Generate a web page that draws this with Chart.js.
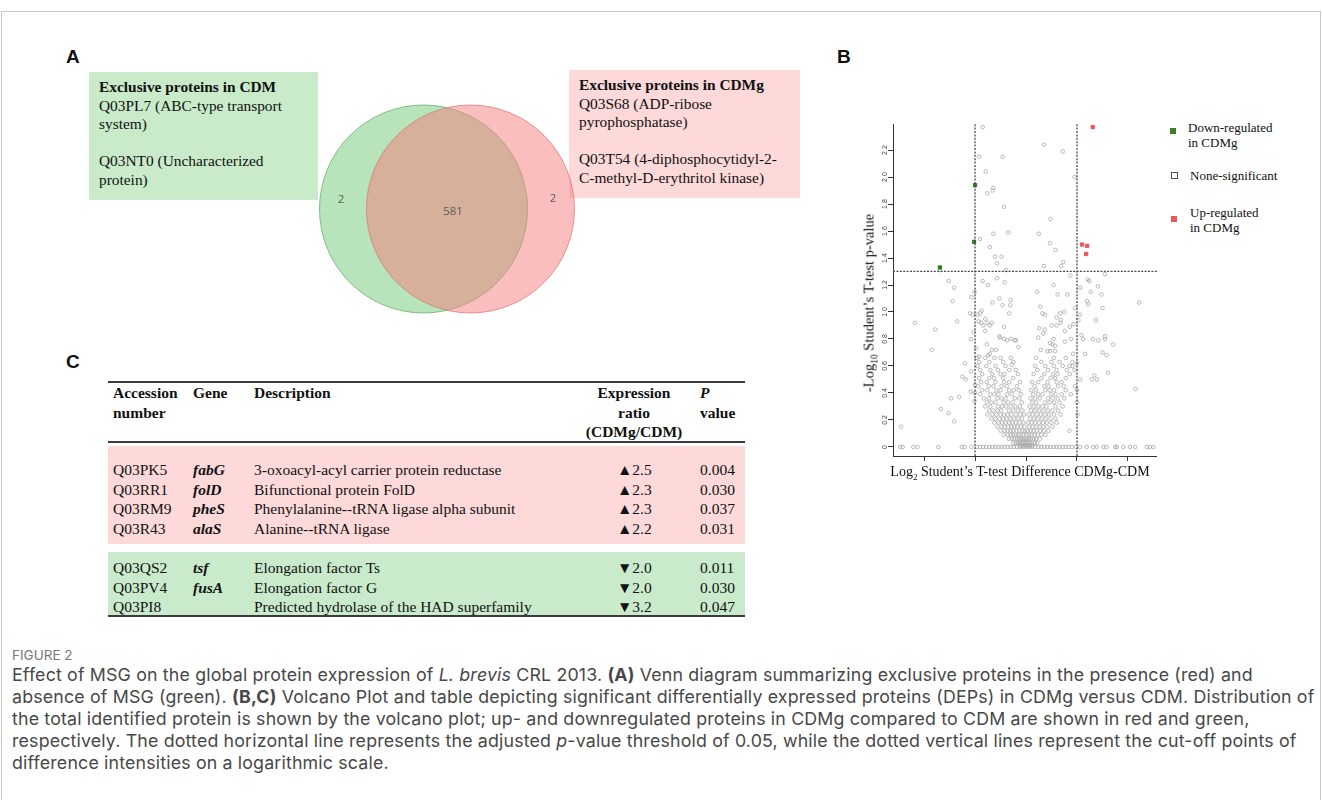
<!DOCTYPE html>
<html>
<head>
<meta charset="utf-8">
<script src="https://cdn.jsdelivr.net/npm/chart.js@4.4.1/dist/chart.umd.min.js"></script>
<style>
  html, body { margin: 0; padding: 0; background: #fff; }
  #page { position: relative; width: 1322px; height: 800px; overflow: hidden; }
  .abs { position: absolute; }
  .frame { left: 1px; top: 11px; width: 1318px; height: 800px; border: 1px solid #c8c8c8; border-bottom: none; }
  .panel { font-family: "Liberation Sans", Arial, sans-serif; font-weight: bold; font-size: 19px; color: #111; }
  .serif { font-family: "Liberation Serif", "Times New Roman", serif; color: #111; }
  .box { font-size: 15.4px; line-height: 18.6px; padding: 6px 10px; box-sizing: border-box; }
  .legend { font-size: 13px; line-height: 15px; }
  .sq { position: absolute; width: 6px; height: 6px; }
  .tbl { font-size: 15.5px; line-height: 19.6px; }
  .rule { position: absolute; left: 108px; width: 637px; height: 2px; background: #3a3a3a; }
  .cell { position: absolute; white-space: nowrap; }
  .caption { font-family: Inter, "Open Sans", sans-serif; color: #484848; font-size: 17.8px; letter-spacing: 0.16px; line-height: 22px; white-space: nowrap; }
</style>
</head>
<body>
<div id="page">
  <div class="abs frame"></div>

  <!-- panel A -->
  <div class="abs panel" style="left:66px;top:46px;">A</div>
  <div class="abs serif box" style="left:89px;top:72px;width:229px;height:128px;background:#c9ebc9;">
    <b>Exclusive proteins in CDM</b><br>Q03PL7 (ABC-type transport<br>system)<br><br>Q03NT0 (Uncharacterized<br>protein)
  </div>
  <div class="abs serif box" style="left:569px;top:70px;width:231px;height:128px;background:#fdd9d9;">
    <b>Exclusive proteins in CDMg</b><br>Q03S68 (ADP-ribose<br>pyrophosphatase)<br><br>Q03T54 (4-diphosphocytidyl-2-<br>C-methyl-D-erythritol kinase)
  </div>
  <canvas id="venn" class="abs" width="300" height="240" style="left:297px;top:89px;width:300px;height:240px;"></canvas>

  <!-- panel B -->
  <div class="abs panel" style="left:837px;top:46px;">B</div>
  <canvas id="volcano" class="abs" width="297" height="360" style="left:860px;top:110px;width:297px;height:360px;"></canvas>
  <div class="abs serif" style="left:870px;top:303px;width:0;height:0;">
    <div style="position:absolute;transform:translate(-50%,-50%) rotate(-90deg);white-space:nowrap;font-size:14.5px;">-Log<sub style="font-size:9.5px;">10</sub> Student’s T-test p-value</div>
  </div>
  <div class="abs serif" style="left:1020px;top:473px;width:0;height:0;">
    <div style="position:absolute;transform:translate(-50%,-50%);white-space:nowrap;font-size:14px;">Log<sub style="font-size:9px;">2</sub> Student’s T-test Difference CDMg-CDM</div>
  </div>
  <div class="sq" style="left:1170px;top:128px;background:#3f7f2c;"></div>
  <div class="abs serif legend" style="left:1188px;top:120px;">Down-regulated<br>in CDMg</div>
  <div class="sq" style="left:1171px;top:172px;width:5px;height:5px;border:1px solid #555;background:#fff;"></div>
  <div class="abs serif legend" style="left:1190px;top:168px;">None-significant</div>
  <div class="sq" style="left:1171px;top:216px;background:#f05454;"></div>
  <div class="abs serif legend" style="left:1190px;top:205px;">Up-regulated<br>in CDMg</div>

  <!-- panel C -->
  <div class="abs panel" style="left:66px;top:351px;">C</div>
  <div class="rule" style="top:381px;"></div>
  <div class="abs serif tbl" style="left:0;top:383px;font-weight:bold;">
    <div class="cell" style="left:113px;">Accession<br>number</div>
    <div class="cell" style="left:193px;">Gene</div>
    <div class="cell" style="left:254px;">Description</div>
    <div class="cell" style="left:574px;width:120px;text-align:center;">Expression<br>ratio<br>(CDMg/CDM)</div>
    <div class="cell" style="left:700px;"><i>P</i><br>value</div>
  </div>
  <div class="rule" style="top:441px;"></div>
  <div class="abs" style="left:108px;top:446px;width:637px;height:98px;background:#fdd9d9;"></div>
  <div class="abs" style="left:108px;top:552px;width:637px;height:63px;background:#c9ebcb;"></div>
  <div class="abs serif tbl" style="left:0;top:460px;">
    <div class="cell" style="left:113px;">Q03PK5<br>Q03RR1<br>Q03RM9<br>Q03R43</div>
    <div class="cell" style="left:193px;font-weight:bold;font-style:italic;">fabG<br>folD<br>pheS<br>alaS</div>
    <div class="cell" style="left:254px;">3-oxoacyl-acyl carrier protein reductase<br>Bifunctional protein FolD<br>Phenylalanine--tRNA ligase alpha subunit<br>Alanine--tRNA ligase</div>
    <div class="cell" style="left:617px;">▲2.5<br>▲2.3<br>▲2.3<br>▲2.2</div>
    <div class="cell" style="left:700px;">0.004<br>0.030<br>0.037<br>0.031</div>
  </div>
  <div class="abs serif tbl" style="left:0;top:558px;">
    <div class="cell" style="left:113px;">Q03QS2<br>Q03PV4<br>Q03PI8</div>
    <div class="cell" style="left:193px;font-weight:bold;font-style:italic;">tsf<br>fusA<br>&nbsp;</div>
    <div class="cell" style="left:254px;">Elongation factor Ts<br>Elongation factor G<br>Predicted hydrolase of the HAD superfamily</div>
    <div class="cell" style="left:617px;">▼2.0<br>▼2.0<br>▼3.2</div>
    <div class="cell" style="left:700px;">0.011<br>0.030<br>0.047</div>
  </div>
  <div class="rule" style="top:615px;"></div>

  <!-- caption -->
  <div class="abs caption" style="left:12px;top:647px;font-size:13.5px;line-height:17px;color:#777;letter-spacing:0;">FIGURE 2</div>
  <div class="abs caption" style="left:12px;top:664px;">
    Effect of MSG on the global protein expression of <i>L. brevis</i> CRL 2013. <b>(A)</b> Venn diagram summarizing exclusive proteins in the presence (red) and<br>
    absence of MSG (green). <b>(B,C)</b> Volcano Plot and table depicting significant differentially expressed proteins (DEPs) in CDMg versus CDM. Distribution of<br>
    the total identified protein is shown by the volcano plot; up- and downregulated proteins in CDMg compared to CDM are shown in red and green,<br>
    respectively. The dotted horizontal line represents the adjusted <i>p</i>-value threshold of 0.05, while the dotted vertical lines represent the cut-off points of<br>
    difference intensities on a logarithmic scale.
  </div>
</div>

<script>
// venn counts: CDM only, shared, CDMg only
const vennLabels = ['CDM', 'CDMg'];
const vennCounts = [2, 581, 2];

// volcano: significant proteins [log2 diff, -log10 p]
const downPoints = [[-1.0, 1.94], [-1.02, 1.52], [-1.69, 1.33]];
const upPoints = [[1.31, 2.37], [1.10, 1.50], [1.20, 1.49], [1.18, 1.43]];

// non-significant, sparse part
const nsSparse = [
    [-0.85, 2.37], [-0.92, 2.15], [-0.46, 2.15], [0.35, 2.24], [0.72, 2.19], [0.95, 2.0], [-0.79, 2.04],
    [-0.64, 1.92], [-0.66, 1.9], [-0.76, 1.88], [-0.43, 1.78], [0.48, 1.69], [-0.64, 1.58], [-0.35, 1.59],
    [0.25, 1.58], [-0.9, 1.54], [0.47, 1.51], [-0.71, 1.48], [0.58, 1.46], [-0.61, 1.41], [-0.48, 1.41],
    [-0.57, 1.36], [0.35, 1.34], [0.69, 1.34], [0.73, 1.37], [-0.39, 1.31], [-1.69, 1.31],
    [-1.52, 1.23], [-1.41, 1.18], [-1.44, 1.08], [-0.85, 1.23], [-0.75, 1.2], [-0.57, 1.25], [-0.42, 1.22],
    [-1.01, 1.15], [-1.07, 1.11], [-0.66, 1.07], [-0.52, 1.1], [-0.46, 1.05], [-0.3, 1.09], [-0.31, 1.05],
    [0.22, 1.15], [0.54, 1.2], [0.62, 1.13], [0.81, 1.13], [0.87, 1.27], [0.28, 1.04], [0.96, 1.03],
    [1.06, 1.18], [1.21, 1.24], [1.24, 1.23], [1.55, 1.28], [1.27, 1.15], [1.41, 1.19], [1.48, 1.13],
    [1.2, 1.08], [1.22, 1.06], [1.5, 1.03], [2.22, 1.07],
    [-2.18, 0.92], [-1.35, 0.93], [-1.78, 0.87], [-1.85, 0.72], [-1.1, 0.99], [-1.05, 0.98], [-1.03, 0.85],
    [-1.08, 0.8], [-1.2, 0.62], [-1.25, 0.52], [-1.18, 0.5], [-1.08, 0.41], [-1.31, 0.37], [-1.47, 0.36],
    [-1.67, 0.28], [-1.52, 0.25], [-1.41, 0.19], [-2.45, 0.15], [-1.08, 0.56], [-0.98, 0.73], [-1.0, 0.46],
    [-1.0, 0.4], [-1.01, 0.34],
    [1.06, 0.98], [1.03, 0.94], [1.37, 0.94], [1.09, 0.83], [1.12, 0.8], [1.31, 0.8], [1.42, 0.79],
    [1.55, 0.82], [1.55, 0.8], [1.71, 0.76], [1.16, 0.69], [1.5, 0.7], [1.58, 0.68], [1.06, 0.5], [1.29, 0.5],
    [1.39, 0.5], [1.34, 0.53], [1.61, 0.55], [2.15, 0.43], [1.0, 0.62], [1.0, 0.42], [1.0, 0.33], [1.01, 0.24],
    [0.85, 0.12],
    [-0.95, 0.98], [-0.9, 0.99], [-0.87, 1.01], [-0.93, 0.93], [-0.88, 0.92], [-0.8, 0.95], [-0.84, 0.9],
    [-0.76, 0.92], [-0.71, 0.9], [-0.67, 0.92], [-0.8, 0.86], [-0.43, 0.89], [-0.33, 0.99], [0.32, 0.99],
    [0.37, 0.98], [0.67, 0.99], [0.75, 1.0], [0.6, 0.96], [0.68, 0.94], [0.68, 0.92], [0.93, 0.91],
    [0.86, 0.89], [0.5, 0.9], [0.6, 0.9], [0.37, 0.87], [0.26, 0.88], [0.76, 0.86], [0.34, 0.84],
    [0.24, 0.81], [0.54, 0.8], [0.88, 0.8], [0.47, 0.77], [0.52, 0.76], [0.57, 0.75], [0.76, 0.78],
    [-0.2, 0.79], [-0.15, 0.74], [0.29, 0.72], [0.42, 0.71], [0.47, 0.71], [0.57, 0.71], [0.92, 0.69],
    [0.91, 0.63], [0.91, 0.6], [-0.52, 0.82], [-0.51, 0.81], [-0.43, 0.8], [-0.37, 0.79], [-0.3, 0.8],
    [-0.22, 0.79], [-0.67, 0.72], [-0.59, 0.72], [-0.74, 0.68], [-0.71, 0.69], [-0.77, 0.76], [-0.92, 0.67],
    [-0.28, 0.61]
];

// non-significant, the dense V
const nsCore = [
    [-0.96, 0.66], [-0.8, 0.66], [-0.62, 0.66], [-0.5, 0.66], [-0.3, 0.66], [0.2, 0.66], [0.55, 0.66], [0.78, 0.66],
    [-0.92, 0.63], [-0.72, 0.63], [-0.45, 0.63], [-0.25, 0.63], [0.3, 0.63], [0.5, 0.63], [0.66, 0.63],
    [-0.95, 0.6], [-0.78, 0.6], [-0.6, 0.6], [-0.4, 0.6], [0.18, 0.6], [0.38, 0.6], [0.55, 0.6], [0.72, 0.6], [0.85, 0.6],
    [-0.9, 0.57], [-0.7, 0.57], [-0.55, 0.57], [-0.33, 0.57], [-0.2, 0.57], [0.22, 0.57], [0.43, 0.57], [0.6, 0.57], [0.8, 0.57], [0.95, 0.57],
    [-0.86, 0.54], [-0.66, 0.54], [-0.5, 0.54], [-0.42, 0.54], [-0.16, 0.54], [0.15, 0.54], [0.36, 0.54], [0.53, 0.54], [0.62, 0.54], [0.86, 0.54],
    [-0.92, 0.51], [-0.72, 0.51], [-0.63, 0.51], [-0.45, 0.51], [-0.25, 0.51], [0.3, 0.51], [0.48, 0.51], [0.57, 0.51], [0.78, 0.51],
    [-0.88, 0.48], [-0.77, 0.48], [-0.6, 0.48], [-0.43, 0.48], [-0.33, 0.48], [-0.12, 0.48], [0.12, 0.48], [0.24, 0.48], [0.42, 0.48], [0.6, 0.48], [0.7, 0.48],
    [-0.94, 0.45], [-0.73, 0.45], [-0.64, 0.45], [-0.48, 0.45], [-0.38, 0.45], [-0.18, 0.45], [0.17, 0.45], [0.36, 0.45], [0.44, 0.45], [0.63, 0.45], [0.74, 0.45], [0.96, 0.45],
    [-0.86, 0.42], [-0.76, 0.42], [-0.58, 0.42], [-0.5, 0.42], [-0.33, 0.42], [-0.24, 0.42], [-0.14, 0.42], [0.1, 0.42], [0.2, 0.42], [0.38, 0.42], [0.46, 0.42], [0.55, 0.42], [0.78, 0.42],
    [-0.9, 0.39], [-0.7, 0.39], [-0.62, 0.39], [-0.54, 0.39], [-0.37, 0.39], [-0.28, 0.39], [-0.1, 0.39], [0.14, 0.39], [0.24, 0.39], [0.32, 0.39], [0.49, 0.39], [0.58, 0.39], [0.7, 0.39], [0.88, 0.39],
    [-0.83, 0.36], [-0.73, 0.36], [-0.56, 0.36], [-0.48, 0.36], [-0.4, 0.36], [-0.22, 0.36], [-0.13, 0.36], [0.09, 0.36], [0.18, 0.36], [0.27, 0.36], [0.43, 0.36], [0.52, 0.36], [0.62, 0.36], [0.75, 0.36],
    [-0.77, 0.33], [-0.68, 0.33], [-0.6, 0.33], [-0.44, 0.33], [-0.35, 0.33], [-0.26, 0.33], [-0.08, 0.33], [0.12, 0.33], [0.2, 0.33], [0.37, 0.33], [0.46, 0.33], [0.55, 0.33], [0.66, 0.33],
    [-0.8, 0.3], [-0.7, 0.3], [-0.55, 0.3], [-0.47, 0.3], [-0.39, 0.3], [-0.3, 0.3], [-0.21, 0.3], [-0.12, 0.3], [0.07, 0.3], [0.15, 0.3], [0.24, 0.3], [0.32, 0.3], [0.4, 0.3], [0.58, 0.3], [0.72, 0.3],
    [-0.72, 0.27], [-0.64, 0.27], [-0.56, 0.27], [-0.49, 0.27], [-0.34, 0.27], [-0.25, 0.27], [-0.16, 0.27], [-0.07, 0.27], [0.1, 0.27], [0.18, 0.27], [0.26, 0.27], [0.34, 0.27], [0.43, 0.27], [0.52, 0.27], [0.63, 0.27],
    [-0.76, 0.24], [-0.66, 0.24], [-0.58, 0.24], [-0.5, 0.24], [-0.43, 0.24], [-0.36, 0.24], [-0.29, 0.24], [-0.2, 0.24], [-0.11, 0.24], [-0.04, 0.24], [0.05, 0.24], [0.13, 0.24], [0.21, 0.24], [0.29, 0.24], [0.37, 0.24], [0.45, 0.24], [0.55, 0.24], [0.68, 0.24],
    [-0.68, 0.21], [-0.6, 0.21], [-0.52, 0.21], [-0.45, 0.21], [-0.38, 0.21], [-0.31, 0.21], [-0.24, 0.21], [-0.16, 0.21], [-0.08, 0.21], [0.08, 0.21], [0.16, 0.21], [0.23, 0.21], [0.31, 0.21], [0.39, 0.21], [0.48, 0.21], [0.58, 0.21],
    [-0.62, 0.18], [-0.54, 0.18], [-0.47, 0.18], [-0.4, 0.18], [-0.33, 0.18], [-0.27, 0.18], [-0.2, 0.18], [-0.13, 0.18], [-0.05, 0.18], [0.04, 0.18], [0.11, 0.18], [0.18, 0.18], [0.26, 0.18], [0.33, 0.18], [0.41, 0.18], [0.5, 0.18], [0.6, 0.18],
    [-0.56, 0.15], [-0.48, 0.15], [-0.42, 0.15], [-0.35, 0.15], [-0.29, 0.15], [-0.23, 0.15], [-0.17, 0.15], [-0.1, 0.15], [-0.03, 0.15], [0.06, 0.15], [0.13, 0.15], [0.2, 0.15], [0.27, 0.15], [0.34, 0.15], [0.42, 0.15], [0.52, 0.15],
    [-0.5, 0.12], [-0.42, 0.12], [-0.36, 0.12], [-0.3, 0.12], [-0.25, 0.12], [-0.19, 0.12], [-0.13, 0.12], [-0.07, 0.12], [-0.02, 0.12], [0.03, 0.12], [0.09, 0.12], [0.15, 0.12], [0.21, 0.12], [0.28, 0.12], [0.35, 0.12], [0.44, 0.12],
    [-0.44, 0.09], [-0.36, 0.09], [-0.3, 0.09], [-0.25, 0.09], [-0.2, 0.09], [-0.15, 0.09], [-0.1, 0.09], [-0.05, 0.09], [0.01, 0.09], [0.06, 0.09], [0.11, 0.09], [0.17, 0.09], [0.23, 0.09], [0.3, 0.09], [0.38, 0.09],
    [-0.34, 0.06], [-0.28, 0.06], [-0.23, 0.06], [-0.18, 0.06], [-0.14, 0.06], [-0.1, 0.06], [-0.06, 0.06], [-0.02, 0.06], [0.02, 0.06], [0.06, 0.06], [0.1, 0.06], [0.15, 0.06], [0.2, 0.06], [0.27, 0.06],
    [-0.25, 0.03], [-0.2, 0.03], [-0.16, 0.03], [-0.12, 0.03], [-0.08, 0.03], [-0.05, 0.03], [-0.02, 0.03], [0.01, 0.03], [0.04, 0.03], [0.08, 0.03], [0.12, 0.03], [0.17, 0.03], [0.22, 0.03],
    [-0.12, 0.01], [-0.08, 0.01], [-0.04, 0.01], [0.0, 0.01], [0.04, 0.01], [0.08, 0.01], [0.12, 0.01]
];

// proteins sitting on -log10 p = 0
const nsZeroX = [-2.47, -2.42, -2.21, -2.13, -1.72, -1.26, -1.2, -1.07, -0.96, -0.9, -0.84, -0.78, -0.72, -0.66,
    -0.6, -0.54, -0.48, -0.42, -0.36, -0.3, -0.24, -0.18, -0.12, -0.06, 0, 0.06, 0.12, 0.18, 0.24, 0.3, 0.36,
    0.42, 0.48, 0.54, 0.6, 0.66, 0.72, 0.78, 0.84, 0.9, 0.98, 1.06, 1.19, 1.32, 1.39, 1.52, 1.58, 1.75, 1.78,
    1.91, 2.04, 2.14, 2.37, 2.43, 2.5];

const pThreshold = 1.301; // -log10(0.05)
const diffCutoff = 1;
const yTicks = [0, 0.2, 0.4, 0.6, 0.8, 1, 1.2, 1.4, 1.6, 1.8, 2, 2.2];
const xTicks = [-2, -1, 0, 1, 2];

const X_MIN = -2.61, X_MAX = 2.57, Y_MIN = -0.067, Y_MAX = 2.393;

const toXY = (p) => ({ x: p[0], y: p[1] });

function drawVenn() {
    // layout only: circle centres and label anchors in a unit box
    const sep = 0.235;
    const labelAt = [[-1.06, 0.09], [0.06, -0.03], [1.06, 0.1]];

    const countLabels = {
        id: 'countLabels',
        afterDatasetsDraw(chart) {
            const { ctx, scales: { x, y } } = chart;
            ctx.save();
            ctx.font = '11.5px "Open Sans", "Liberation Sans", sans-serif';
            ctx.fillStyle = '#5a5a5a';
            ctx.textAlign = 'center';
            ctx.textBaseline = 'middle';
            vennCounts.forEach((c, i) => {
                ctx.fillText(String(c), x.getPixelForValue(labelAt[i][0]), y.getPixelForValue(labelAt[i][1]));
            });
            ctx.restore();
        },
    };

    // order: higher is drawn first, so the red set lies over the green one
    new Chart(document.getElementById('venn'), {
        type: 'scatter',
        data: {
            datasets: [
                { label: vennLabels[0], data: [{ x: -sep, y: 0 }], pointRadius: 104, pointHoverRadius: 104, order: 2,
                  backgroundColor: 'rgba(111,201,117,0.5)', borderColor: 'rgba(90,170,95,0.7)', borderWidth: 1 },
                { label: vennLabels[1], data: [{ x: sep, y: 0 }], pointRadius: 104, pointHoverRadius: 104, order: 1,
                  backgroundColor: 'rgba(245,125,125,0.5)', borderColor: 'rgba(220,110,110,0.7)', borderWidth: 1 },
            ],
        },
        options: {
            responsive: false,
            animation: false,
            events: [],
            clip: false,
            layout: { padding: 0, autoPadding: false },
            plugins: { legend: { display: false }, tooltip: { enabled: false } },
            scales: {
                x: { display: false, min: -1.5, max: 1.5 },
                y: { display: false, min: -1.2, max: 1.2 },
            },
        },
        plugins: [countLabels],
    });
}

function drawVolcano() {
    const rotatedYTicks = {
        id: 'rotatedYTicks',
        afterDraw(chart) {
            const { ctx, scales: { y } } = chart;
            ctx.save();
            ctx.font = '7px "Liberation Sans", sans-serif';
            ctx.fillStyle = '#444';
            ctx.textAlign = 'center';
            ctx.textBaseline = 'middle';
            yTicks.forEach((v) => {
                ctx.save();
                ctx.translate(y.right - 8, y.getPixelForValue(v));
                ctx.rotate(-Math.PI / 2);
                ctx.fillText(v === 0 ? '0' : v.toFixed(1), 0, 0);
                ctx.restore();
            });
            ctx.restore();
        },
    };

    const cutLine = { type: 'line', borderColor: '#4a4a4a', borderWidth: 1.3, borderDash: [2, 1.4],
        pointRadius: 0, showLine: true, fill: false, order: 0 };
    const nsAll = nsSparse.concat(nsCore).map(toXY).concat(nsZeroX.map((x) => ({ x, y: 0 })));

    new Chart(document.getElementById('volcano'), {
        type: 'scatter',
        data: {
            datasets: [
                { ...cutLine, data: [{ x: X_MIN, y: pThreshold }, { x: X_MAX, y: pThreshold }] },
                { ...cutLine, data: [{ x: -diffCutoff, y: Y_MIN }, { x: -diffCutoff, y: Y_MAX }] },
                { ...cutLine, data: [{ x: diffCutoff, y: Y_MIN }, { x: diffCutoff, y: Y_MAX }] },
                { label: 'None-significant', data: nsAll, pointRadius: 1.8, pointBorderWidth: 0.8,
                  pointBackgroundColor: 'rgba(255,255,255,0)', pointBorderColor: '#a8a8a8', order: 2 },
                { label: 'Down-regulated in CDMg', data: downPoints.map(toXY), pointStyle: 'rect', pointRadius: 2.3,
                  pointBackgroundColor: '#2f7a22', pointBorderColor: '#2f7a22', order: 1 },
                { label: 'Up-regulated in CDMg', data: upPoints.map(toXY), pointStyle: 'rect', pointRadius: 2.3,
                  pointBackgroundColor: '#f05454', pointBorderColor: '#f05454', order: 1 },
            ],
        },
        options: {
            responsive: false,
            animation: false,
            events: [],
            clip: false,
            layout: { padding: { top: 14, left: 0, right: 0, bottom: 0 }, autoPadding: false },
            plugins: { legend: { display: false }, tooltip: { enabled: false } },
            scales: {
                x: {
                    type: 'linear', min: X_MIN, max: X_MAX,
                    afterBuildTicks: (s) => { s.ticks = xTicks.map((v) => ({ value: v })); },
                    afterFit: (s) => { s.height = 14; },
                    ticks: { display: false },
                    grid: { drawOnChartArea: false, tickLength: 5, color: '#333' },
                    border: { display: true, color: '#333', width: 1 },
                },
                y: {
                    type: 'linear', min: Y_MIN, max: Y_MAX,
                    afterBuildTicks: (s) => { s.ticks = yTicks.map((v) => ({ value: v })); },
                    afterFit: (s) => { s.width = 33; },
                    ticks: { display: false },
                    grid: { drawOnChartArea: false, tickLength: 5, color: '#333' },
                    border: { display: true, color: '#333', width: 1 },
                },
            },
        },
        plugins: [rotatedYTicks],
    });
}

drawVenn();
drawVolcano();
</script>
</body>
</html>
